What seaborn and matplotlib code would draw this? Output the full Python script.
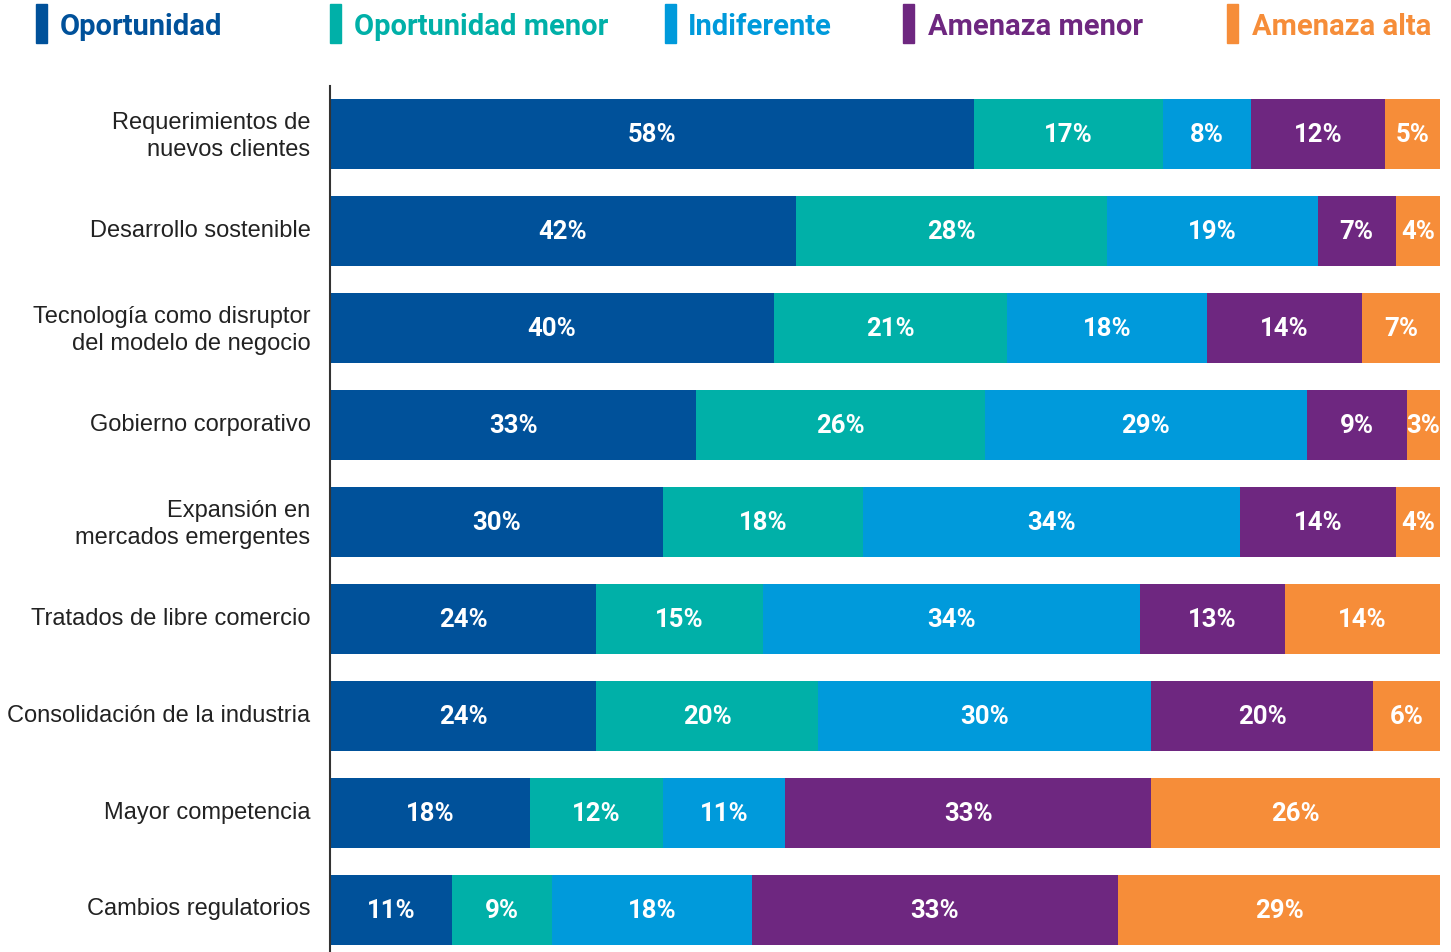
import numpy as np
import pandas as pd
import matplotlib
matplotlib.use("Agg")
import matplotlib.pyplot as plt
import matplotlib.font_manager as fm
from matplotlib.patches import Rectangle
from matplotlib.transforms import ScaledTranslation
import seaborn as sns

categories = [
    "Requerimientos de\nnuevos clientes",
    "Desarrollo sostenible",
    "Tecnología como disruptor\ndel modelo de negocio",
    "Gobierno corporativo",
    "Expansión en\nmercados emergentes",
    "Tratados de libre comercio",
    "Consolidación de la industria",
    "Mayor competencia",
    "Cambios regulatorios",
]
series_names = ["Oportunidad", "Oportunidad menor", "Indiferente", "Amenaza menor", "Amenaza alta"]
oportunidad = [58, 42, 40, 33, 30, 24, 24, 18, 11]
oportunidad_menor = [17, 28, 21, 26, 18, 15, 20, 12, 9]
indiferente = [8, 19, 18, 29, 34, 34, 30, 11, 18]
amenaza_menor = [12, 7, 14, 9, 14, 13, 20, 33, 33]
amenaza_alta = [5, 4, 7, 3, 4, 14, 6, 26, 29]
colors = ["#00519A", "#00B0A8", "#009ADB", "#6E2780", "#F68D39"]

sns.set_theme(style="white")
names = {f.name for f in fm.fontManager.ttflist}
narrow = "Liberation Sans Narrow" if "Liberation Sans Narrow" in names else "Roboto"
plt.rcParams["font.family"] = ["Liberation Sans", "DejaVu Sans"]

values = np.array([oportunidad, oportunidad_menor, indiferente, amenaza_menor, amenaza_alta], dtype=float)
cum = np.cumsum(values, axis=0)
df = pd.DataFrame({"categoria": categories})
for name, c in zip(series_names, cum):
    df[name] = c

fig = plt.figure(figsize=(14.51, 9.53), dpi=100)
ax = fig.add_axes([330 / 1451, 0, 1110 / 1451, 1 - 87 / 953])

# Stacked bars: draw cumulative totals from the longest to the shortest
for name, color in reversed(list(zip(series_names, colors))):
    sns.barplot(data=df, x=name, y="categoria", color=color, width=0.72,
                saturation=1, ax=ax, edgecolor="none", linewidth=0)

for i in range(len(categories)):
    start = 0.0
    for j in range(len(series_names)):
        v = values[j, i]
        ax.text(start + v / 2, i, f"{int(v)}%", ha="center", va="center",
                color="white", fontsize=18.5, fontweight="bold", family=[narrow, "DejaVu Sans"])
        start += v

ax.set_xlim(0, 100)
ax.set_ylim(len(categories) - 1 + 0.433, -0.495)
ax.set_xlabel("")
ax.set_ylabel("")
ax.set_xticks([])
ax.set_yticks(range(len(categories)))
ax.set_yticklabels(categories)
ax.tick_params(axis="y", length=0, pad=14, labelsize=17, labelcolor="#222222")
lift = ScaledTranslation(0, 4 / 100, fig.dpi_scale_trans)
for lbl in ax.get_yticklabels():
    lbl.set_horizontalalignment("right")
    lbl.set_multialignment("right")
    lbl.set_linespacing(1.3)
    lbl.set_transform(lbl.get_transform() + lift)
for s in ["top", "right", "bottom"]:
    ax.spines[s].set_visible(False)
ax.spines["left"].set_color("#333333")
ax.spines["left"].set_linewidth(1.5)

# Legend row across the top
rect_x = [36, 330, 665, 903, 1227]
text_x = [60, 354, 688, 928, 1252]
W, H = 1451, 953
for name, color, rx, tx in zip(series_names, colors, rect_x, text_x):
    fig.patches.append(Rectangle((rx / W, 1 - 44 / H), 11 / W, 39 / H,
                                 transform=fig.transFigure, color=color))
    fig.text(tx / W, 1 - 27 / H, name, color=color, fontsize=21, fontweight="bold",
             ha="left", va="center", family=[narrow, "DejaVu Sans"])

fig.savefig("out.png", dpi=100)
